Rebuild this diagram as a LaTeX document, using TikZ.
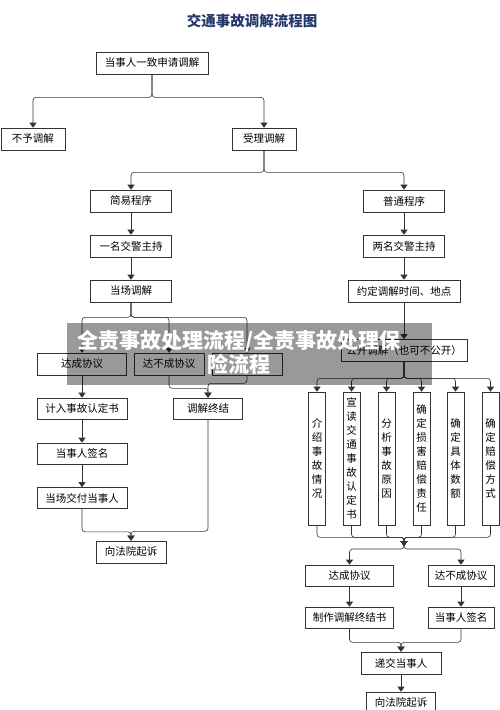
\documentclass[tikz,border=0pt]{standalone}
\usepackage{fontspec}
\setmainfont{Noto Sans CJK SC}
\usetikzlibrary{arrows.meta}
\definecolor{titleblue}{HTML}{24396B}
\definecolor{linegray}{HTML}{333333}

\begin{document}
\begin{tikzpicture}
            [x=1pt, y=-1pt, ->, >={Triangle[width=7pt,length=5pt]}, semithick, draw=linegray,
             box/.style={shape=rectangle, draw=linegray, inner sep=0pt, minimum height=22, font=\fontsize{10.5}{12}\selectfont},
             vbox/.style={box, minimum width=17, minimum height=133, align=center, font=\fontsize{10.5}{14}\selectfont},
             fork/.style={->, rounded corners=3pt}]
            \useasboundingbox (0,0) rectangle (500,710);

            \node[font=\fontsize{14.5}{16}\selectfont\bfseries, text=titleblue] (title) at (252,21) {交通事故调解流程图};

            % top part
            \node[box, minimum width=112] (apply) at (152,63) {当事人一致申请调解};
            \node[box, minimum width=64] (refuse) at (33,139) {不予调解};
            \node[box, minimum width=64] (accept) at (264,139) {受理调解};
            \node[box, minimum width=81] (simple) at (131,201) {简易程序};
            \node[box, minimum width=81] (normal) at (404,201) {普通程序};

            % simple procedure
            \node[box, minimum width=81] (onecop) at (131,246) {一名交警主持};
            \node[box, minimum width=81] (spot) at (131,291) {当场调解};
            \node[box, minimum width=89] (agreeL) at (82,364) {达成协议};
            \node[box, minimum width=70] (failL) at (169,364) {达不成协议};
            \node[box, minimum width=70] (hidden) at (247,364) {};
            \node[box, minimum width=90, minimum height=21] (record) at (82,408.5) {计入事故认定书};
            \node[box, minimum width=69, minimum height=21] (endmed) at (208,408.5) {调解终结};
            \node[box, minimum width=90, minimum height=21] (signL) at (82,453.5) {当事人签名};
            \node[box, minimum width=90, minimum height=21] (deliverL) at (82,498) {当场交付当事人};
            \node[box, minimum width=70] (courtL) at (131,552) {向法院起诉};

            % normal procedure
            \node[box, minimum width=81] (twocop) at (404,246) {两名交警主持};
            \node[box, minimum width=112] (appoint) at (404,291) {约定调解时间、地点};
            \node[box, minimum width=126] (public) at (404,350.5) {公开调解（也可不公开）};
            \node[vbox] (v1) at (317,458.5) {介\\绍\\事\\故\\情\\况};
            \node[vbox] (v2) at (351.5,458.5) {宣\\读\\交\\通\\事\\故\\认\\定\\书};
            \node[vbox] (v3) at (386.5,458.5) {分\\析\\事\\故\\原\\因};
            \node[vbox] (v4) at (421.5,458.5) {确\\定\\损\\害\\赔\\偿\\责\\任};
            \node[vbox] (v5) at (455.5,458.5) {确\\定\\具\\体\\数\\额};
            \node[vbox] (v6) at (490.5,458.5) {确\\定\\赔\\偿\\方\\式};
            \coordinate (merge) at (404,546);
            \node[box, minimum width=88, minimum height=21] (agreeR) at (349.5,575.5) {达成协议};
            \node[box, minimum width=66, minimum height=21] (failR) at (461,575.5) {达不成协议};
            \node[box, minimum width=88, minimum height=21] (bookR) at (349.5,617.5) {制作调解终结书};
            \node[box, minimum width=66, minimum height=21] (signR) at (461,617.5) {当事人签名};
            \node[box, minimum width=80] (handR) at (401,663) {递交当事人};
            \node[box, minimum width=69] (courtR) at (401,703) {向法院起诉};

            \draw[fork] (apply.south) -- ++(0,23) -| (refuse.north);
            \draw[fork] (apply.south) -- ++(0,23) -| (accept.north);
            \draw[fork] (accept.south) -- ++(0,22) -| (simple.north);
            \draw[fork] (accept.south) -- ++(0,22) -| (normal.north);

            \path [->] (simple) edge (onecop);
            \path [->] (onecop) edge (spot);
            \draw[fork] (spot.south) -- ++(0,15) -| (agreeL.north);
            \draw[fork] (spot.south) -- ++(0,15) -| (failL.north);
            \draw[fork] (spot.south) -- ++(0,15) -| (hidden.north);
            \draw[fork] (failL.south) -- ++(0,13) -| (endmed.north);
            \draw[fork] (hidden.south) -- ++(0,8) -| (endmed.north);
            \path [->] (agreeL) edge (record);
            \path [->] (record) edge (signL);
            \path [->] (signL) edge (deliverL);
            \draw[fork] (deliverL.south) -- ++(0,23) -| (courtL.north);
            \draw[fork] (endmed.south) -- ++(0,112) -| (courtL.north);

            \path [->] (normal) edge (twocop);
            \path [->] (twocop) edge (appoint);
            \path [->] (appoint) edge (public);
            \foreach \v in {v1,v2,v3,v4,v5,v6}
                \draw[fork] (public.south) -- ++(0,16.5) -| (\v.north);
            \foreach \v in {v1,v2,v3,v4,v5,v6}
                \draw[fork] (\v.south) -- ++(0,12) -| (merge);
            \draw[fork] (merge) -- ++(0,3) -| (agreeR.north);
            \draw[fork] (merge) -- ++(0,3) -| (failR.north);
            \path [->] (agreeR) edge (bookR);
            \path [->] (failR) edge (signR);
            \draw[fork] (bookR.south) -- ++(0,14) -| (handR.north);
            \draw[fork] (signR.south) -- ++(0,14) -| (handR.north);
            \path [->] (handR) edge (courtR);

            % grey banner over the middle
            \fill[black, opacity=0.4] (67,323) rectangle (432,385);
            \node[text=white, align=center, font=\fontsize{21}{24}\selectfont\bfseries] (banner) at (239,352) {全责事故处理流程/全责事故处理保\\险流程};
        \end{tikzpicture}
\end{document}
